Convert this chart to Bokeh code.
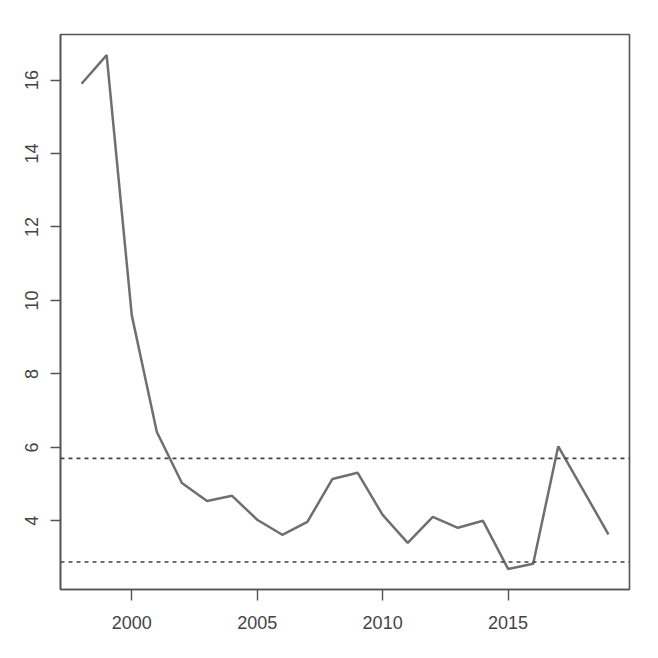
from bokeh.plotting import figure
from bokeh.models import FixedTicker, Span, Range1d
from bokeh.embed import file_html
from bokeh.resources import INLINE

years = list(range(1998, 2020))
values = [15.9, 16.68, 9.6, 6.42, 5.03, 4.54, 4.68, 4.03, 3.62, 3.97, 5.14, 5.31,
          4.16, 3.40, 4.11, 3.81, 4.0, 2.69, 2.83, 6.03, 4.83, 3.63]
ref_levels = [5.7, 2.88]
x_ticks = [2000, 2005, 2010, 2015]
y_ticks = [4, 6, 8, 10, 12, 14, 16]

xr = max(years) - min(years)
yr = max(values) - min(values)
p = figure(width=642, height=642, output_backend="svg", toolbar_location=None,
           x_range=Range1d(min(years) - 0.04 * xr, max(years) + 0.04 * xr),
           y_range=Range1d(min(values) - 0.04 * yr, max(values) + 0.04 * yr),
           min_border_left=60, min_border_right=13, min_border_top=34, min_border_bottom=53)

p.line(years, values, line_color="#6f6f6f", line_width=2.5)
for lv in ref_levels:
    p.add_layout(Span(location=lv, dimension="width", line_color="#444444",
                      line_width=1.6, line_dash="4 4"))

p.xgrid.visible = False
p.ygrid.visible = False
p.outline_line_color = "#555555"
p.outline_line_width = 1.6
p.background_fill_color = "white"
p.border_fill_color = "white"

p.xaxis.ticker = FixedTicker(ticks=x_ticks)
p.yaxis.ticker = FixedTicker(ticks=y_ticks)
for ax in (p.xaxis[0], p.yaxis[0]):
    ax.axis_line_color = "#555555"
    ax.axis_line_width = 1.6
    ax.major_tick_line_color = "#555555"
    ax.major_tick_line_width = 1.4
    ax.major_tick_in = 0
    ax.minor_tick_line_color = None
    ax.major_label_text_color = "#444444"
    ax.major_label_text_font = "Liberation Sans"
    ax.major_label_text_font_size = "18px"
p.xaxis.major_tick_out = 11
p.xaxis.major_label_standoff = 15
p.yaxis.major_tick_out = 10
p.yaxis.major_label_standoff = 12
p.yaxis.major_label_orientation = "vertical"

open("out.html", "w").write(file_html(p, INLINE))
